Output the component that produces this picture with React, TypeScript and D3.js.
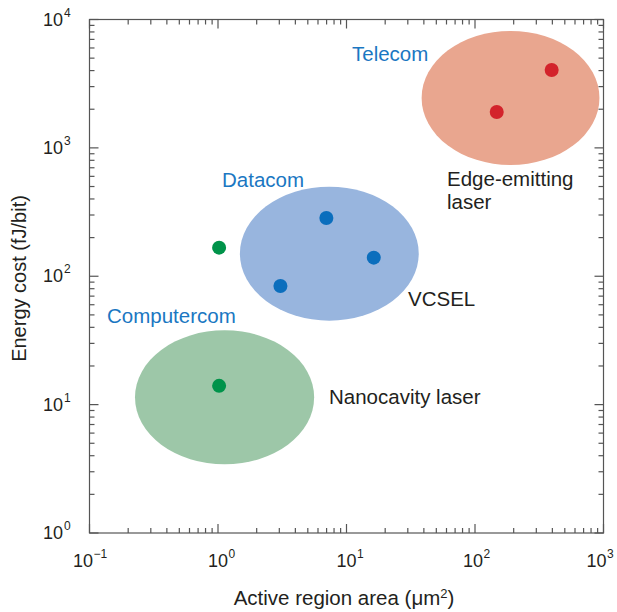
import React from "react";
import * as d3 from "d3";

// Data
const groups = ["Telecom", "Datacom", "Computercom"];
const groupColors = ["#e9a68f", "#98b5de", "#9dc7a8"];
const dotColors = ["#d3232b", "#0b6ebd", "#00934a"];
// Ellipses: center (data units) and radius in decades
const ellipseCx = [189, 7.35, 1.125];
const ellipseCy = [2450, 150, 11.4];
const ellipseRx = [0.692, 0.696, 0.697];
const ellipseRy = [0.522, 0.522, 0.522];
// Points
const pointX = [395, 147.6, 6.97, 16.3, 3.06, 1.02, 1.02];
const pointY = [4045, 1905, 284, 139.6, 84, 167, 14.0];
const pointGroup = [0, 0, 1, 1, 1, 2, 2];
// Labels
const groupLabels = ["Telecom", "Datacom", "Computercom"];
const groupLabelPos = [[352, 61], [222, 187], [107, 323]];
const typeLabels = [["Edge-emitting", "laser"], ["VCSEL"], ["Nanocavity laser"]];
const typeLabelPos = [[447, 186], [408, 306], [329, 404]];
const xTickExps = [-1, 0, 1, 2, 3];
const xTickShift = [-16.5, -10, -10, -12, -17];
const yTickExps = [0, 1, 2, 3, 4];

const W = 617, H = 612;
const left = 89.5, right = 603.5, top = 19.5, bottom = 533;

export default function App() {
  const x = d3.scaleLog().domain([0.1, 1000]).range([left, right]);
  const y = d3.scaleLog().domain([1, 10000]).range([bottom, top]);
  const axisColor = "#555";
  const font = "'Liberation Sans', Arial, Helvetica, sans-serif";

  const minorTicks = (lo: number, hi: number) => {
    const out: { v: number; major: boolean }[] = [];
    for (let e = lo; e <= hi; e++) {
      out.push({ v: Math.pow(10, e), major: true });
      if (e < hi) for (let k = 2; k <= 9; k++) out.push({ v: k * Math.pow(10, e), major: false });
    }
    return out;
  };
  const xt = minorTicks(-1, 3);
  const yt = minorTicks(0, 4);
  const maj = 9, mn = 5;

  const sup = (e: number) => (e < 0 ? "\u2212" + Math.abs(e) : String(e));

  return (
    <svg width={W} height={H} style={{ position: "absolute", left: 0, top: 0, background: "#fff" }} fontFamily={font}>
      {groups.map((g, i) => {
        const cx = x(ellipseCx[i]);
        const cy = y(ellipseCy[i]);
        const rx = x(ellipseCx[i] * Math.pow(10, ellipseRx[i])) - cx;
        const ry = cy - y(ellipseCy[i] * Math.pow(10, ellipseRy[i]));
        return <ellipse key={g} cx={cx} cy={cy} rx={rx} ry={ry} fill={groupColors[i]} />;
      })}
      {pointX.map((px, i) => (
        <circle key={i} cx={x(px)} cy={y(pointY[i])} r={7} fill={dotColors[pointGroup[i]]} />
      ))}
      {groupLabels.map((l, i) => (
        <text key={l} x={groupLabelPos[i][0]} y={groupLabelPos[i][1]} fontSize={20.5} fill="#1a77c2">{l}</text>
      ))}
      {typeLabels.map((lines, i) => (
        <text key={i} x={typeLabelPos[i][0]} y={typeLabelPos[i][1]} fontSize={20.5} fill="#231f20">
          {lines.map((ln, j) => (
            <tspan key={j} x={typeLabelPos[i][0]} dy={j === 0 ? 0 : 23}>{ln}</tspan>
          ))}
        </text>
      ))}
      {/* frame */}
      <rect x={left} y={top} width={right - left} height={bottom - top} fill="none" stroke={axisColor} strokeWidth={1.2} />
      {xt.map((t, i) => {
        const px = x(t.v);
        const len = t.major ? maj : mn;
        return (
          <g key={"x" + i} stroke={axisColor} strokeWidth={1.2}>
            <line x1={px} x2={px} y1={bottom} y2={bottom - len} />
            <line x1={px} x2={px} y1={top} y2={top + len} />
          </g>
        );
      })}
      {yt.map((t, i) => {
        const py = y(t.v);
        const len = t.major ? maj : mn;
        return (
          <g key={"y" + i} stroke={axisColor} strokeWidth={1.2}>
            <line x1={left} x2={left + len} y1={py} y2={py} />
            <line x1={right} x2={right - len} y1={py} y2={py} />
          </g>
        );
      })}
      {xTickExps.map((e, i) => {
        const px = x(Math.pow(10, e)) + xTickShift[i];
        return (
          <g key={"xl" + e} fill="#231f20">
            <text x={px} y={567} fontSize={18}>10</text>
            <text x={px + 20.5} y={558} fontSize={12}>{sup(e)}</text>
          </g>
        );
      })}
      {yTickExps.map((e) => {
        const py = y(Math.pow(10, e));
        return (
          <g key={"yl" + e} fill="#231f20">
            <text x={63} y={py + 6} fontSize={18} textAnchor="end">10</text>
            <text x={64} y={py - 3} fontSize={12}>{sup(e)}</text>
          </g>
        );
      })}
      <text x={344} y={605} fontSize={20.5} textAnchor="middle" fill="#231f20">
        Active region area (μm<tspan dy={-7} fontSize={13}>2</tspan><tspan dy={7}>)</tspan>
      </text>
      <text transform={`translate(26,278.5) rotate(-90)`} fontSize={20} textAnchor="middle" fill="#231f20">
        Energy cost (fJ/bit)
      </text>
    </svg>
  );
}
